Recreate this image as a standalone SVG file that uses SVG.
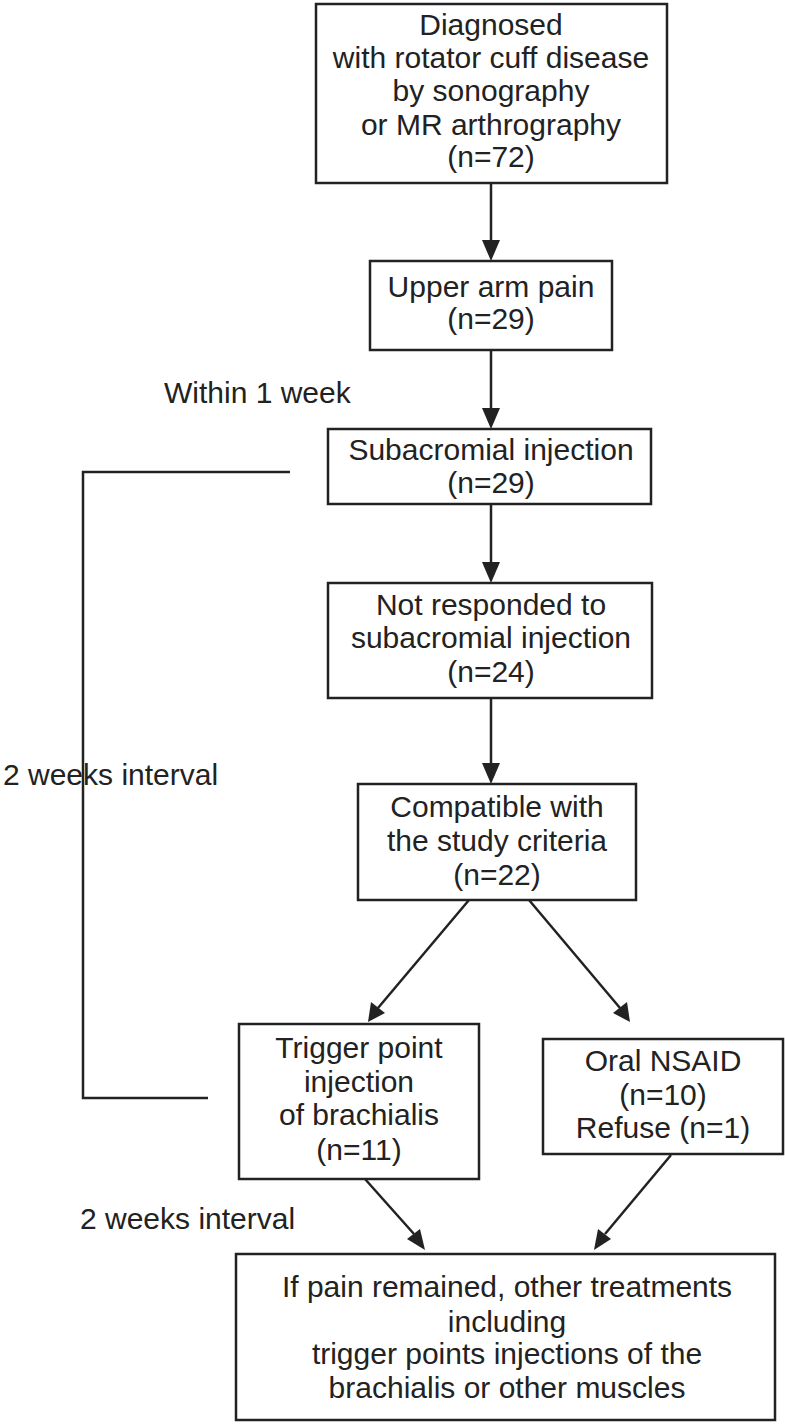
<svg xmlns="http://www.w3.org/2000/svg" width="785" height="1424" viewBox="0 0 785 1424">
<style>
rect{fill:#fff;stroke:#222;stroke-width:2.5}
text{font-family:"Liberation Sans",Arial,sans-serif;font-size:30px;fill:#222}
.c{text-anchor:middle}
.l{stroke:#222;stroke-width:2.5;fill:none}
.h{fill:#222}
</style>
<rect width="785" height="1424" style="stroke:none"/>
<g id="connectors">
<line class="l" x1="491" y1="183" x2="491" y2="242"/><path class="h" d="M482,240L491,261L500,240z"/>
<line class="l" x1="491" y1="350" x2="491" y2="410"/><path class="h" d="M482,408L491,429L500,408z"/>
<line class="l" x1="491" y1="504" x2="491" y2="564"/><path class="h" d="M482,562L491,583L500,562z"/>
<line class="l" x1="491" y1="698" x2="491" y2="765"/><path class="h" d="M482,763L491,784L500,763z"/>
<line class="l" x1="469" y1="900" x2="378" y2="1008"/><path class="h" d="M371,1002L368,1022L385,1013z"/>
<line class="l" x1="529" y1="900" x2="620" y2="1008"/><path class="h" d="M613,1013L630,1022L627,1002z"/>
<line class="l" x1="365" y1="1179" x2="414" y2="1234"/><path class="h" d="M407,1239L425,1250L420,1229z"/>
<line class="l" x1="671" y1="1155" x2="605" y2="1234"/><path class="h" d="M598,1229L594,1250L611,1239z"/>
<path class="l" d="M290,472H83V1098H208"/>
</g>
<g id="n1"><rect x="316" y="4" width="351" height="179"/>
<text class="c" x="491" y="35">Diagnosed</text><text class="c" x="491" y="68">with rotator cuff disease</text><text class="c" x="491" y="101">by sonography</text><text class="c" x="491" y="135">or MR arthrography</text><text class="c" x="491" y="167">(n=72)</text></g>
<g id="n2"><rect x="370" y="261" width="242" height="89"/>
<text class="c" x="491" y="297">Upper arm pain</text><text class="c" x="491" y="329">(n=29)</text></g>
<g id="n3"><rect x="328" y="429" width="323" height="75"/>
<text class="c" x="491" y="460">Subacromial injection</text><text class="c" x="491" y="493">(n=29)</text></g>
<g id="n4"><rect x="328" y="583" width="324" height="115"/>
<text class="c" x="491" y="615">Not responded to</text><text class="c" x="491" y="648">subacromial injection</text><text class="c" x="491" y="682">(n=24)</text></g>
<g id="n5"><rect x="358" y="784" width="278" height="116"/>
<text class="c" x="497" y="817">Compatible with</text><text class="c" x="497" y="851">the study criteria</text><text class="c" x="497" y="885">(n=22)</text></g>
<g id="n6"><rect x="239" y="1024" width="240" height="155"/>
<text class="c" x="359" y="1058">Trigger point</text><text class="c" x="359" y="1092">injection</text><text class="c" x="359" y="1125">of brachialis</text><text class="c" x="359" y="1160">(n=11)</text></g>
<g id="n7"><rect x="543" y="1039" width="240" height="115"/>
<text class="c" x="663" y="1071">Oral NSAID</text><text class="c" x="663" y="1105">(n=10)</text><text class="c" x="663" y="1138">Refuse (n=1)</text></g>
<g id="n8"><rect x="236" y="1254" width="539" height="166"/>
<text class="c" x="507" y="1297">If pain remained, other treatments</text><text class="c" x="507" y="1332">including</text><text class="c" x="507" y="1364">trigger points injections of the</text><text class="c" x="507" y="1398">brachialis or other muscles</text></g>
<g id="labels">
<text x="164" y="403">Within 1 week</text>
<text x="3" y="785">2 weeks interval</text>
<text x="80" y="1229">2 weeks interval</text>
</g>
</svg>
